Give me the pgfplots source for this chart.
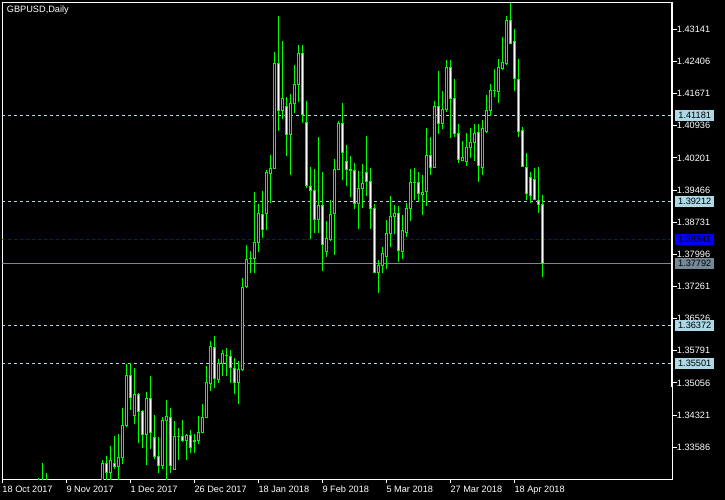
\documentclass[border=0pt]{standalone}
\usepackage{pgfplots}
\pgfplotsset{compat=1.18}
\usepackage{pgfplotstable}
\usepackage{fontspec}
\setmainfont{Liberation Sans}
\definecolor{mtlime}{RGB}{0,255,0}
\definecolor{lblue}{RGB}{173,216,230}
\definecolor{slgray}{RGB}{119,136,153}
\pgfplotstableread{
i o h l c
9 1.3240 1.3288 1.3220 1.3250
10 1.3260 1.3323 1.3230 1.3250
11 1.3250 1.3300 1.3230 1.3240
25 1.3260 1.3329 1.3250 1.3322
26 1.3322 1.3339 1.3250 1.3301
27 1.3301 1.3361 1.3275 1.3329
28 1.3322 1.3384 1.3310 1.3315
29 1.3315 1.3389 1.3270 1.3336
30 1.3336 1.3448 1.3321 1.3409
31 1.3409 1.3549 1.3406 1.3523
32 1.3523 1.3551 1.3444 1.3473
33 1.3431 1.3540 1.3412 1.3480
34 1.3480 1.3482 1.3369 1.3441
35 1.3441 1.3444 1.3358 1.3388
36 1.3388 1.3485 1.3319 1.3470
37 1.3470 1.3522 1.3355 1.3393
38 1.3381 1.3432 1.3331 1.3337
39 1.3337 1.3382 1.3300 1.3317
40 1.3317 1.3428 1.3310 1.3420
41 1.3420 1.3467 1.3270 1.3428
42 1.3427 1.3448 1.3300 1.3317
43 1.3308 1.3419 1.3307 1.3384
44 1.3384 1.3403 1.3330 1.3384
45 1.3384 1.3421 1.3371 1.3374
46 1.3374 1.3388 1.3330 1.3386
47 1.3386 1.3398 1.3346 1.3358
48 1.3372 1.3389 1.3346 1.3374
49 1.3374 1.3430 1.3367 1.3393
50 1.3393 1.3458 1.3391 1.3427
51 1.3427 1.3544 1.3427 1.3507
52 1.3505 1.3602 1.3488 1.3589
53 1.3587 1.3613 1.3493 1.3515
54 1.3514 1.3560 1.3505 1.3550
55 1.3550 1.3582 1.3522 1.3573
56 1.3568 1.3586 1.3522 1.3568
57 1.3566 1.3582 1.3505 1.3541
58 1.3539 1.3562 1.3481 1.3507
59 1.3507 1.3555 1.3458 1.3537
60 1.3537 1.3745 1.3532 1.3724
61 1.3726 1.3821 1.3722 1.3788
62 1.3790 1.3807 1.3756 1.3790
63 1.3790 1.3942 1.3756 1.3827
64 1.3827 1.3915 1.3804 1.3893
65 1.3891 1.3945 1.3838 1.3856
66 1.3893 1.3993 1.3856 1.3987
67 1.3985 1.4027 1.3916 1.3996
68 1.3996 1.4262 1.3996 1.4236
69 1.4236 1.4345 1.4082 1.4129
70 1.4129 1.4287 1.4108 1.4156
71 1.4138 1.4159 1.4025 1.4074
72 1.4074 1.4166 1.3980 1.4145
73 1.4145 1.4233 1.4122 1.4188
74 1.4188 1.4278 1.4149 1.4259
75 1.4259 1.4278 1.4101 1.4120
76 1.4101 1.4150 1.3951 1.3957
77 1.3955 1.4000 1.3835 1.3946
78 1.3946 1.3994 1.3848 1.3880
79 1.3880 1.4068 1.3848 1.3912
80 1.3912 1.3988 1.3762 1.3823
81 1.3806 1.3876 1.3794 1.3836
82 1.3834 1.3924 1.3831 1.3891
83 1.3893 1.4017 1.3798 1.3994
84 1.3994 1.4105 1.3993 1.4099
85 1.4099 1.4146 1.3970 1.4033
86 1.4012 1.4050 1.3957 1.3994
87 1.3992 1.4025 1.3930 1.3994
88 1.3991 1.4008 1.3903 1.3916
89 1.3916 1.3990 1.3857 1.3951
90 1.3951 1.4006 1.3905 1.3962
91 1.3987 1.4070 1.3932 1.3966
92 1.3967 1.3998 1.3857 1.3905
93 1.3905 1.3914 1.3756 1.3758
94 1.3758 1.3787 1.3711 1.3775
95 1.3775 1.3817 1.3756 1.3802
96 1.3794 1.3878 1.3765 1.3848
97 1.3848 1.3932 1.3816 1.3887
98 1.3886 1.3913 1.3845 1.3892
99 1.3892 1.3910 1.3781 1.3808
100 1.3806 1.3890 1.3788 1.3853
101 1.3850 1.3916 1.3840 1.3905
102 1.3905 1.3995 1.3875 1.3965
103 1.3964 1.3996 1.3924 1.3964
104 1.3964 1.3989 1.3920 1.3938
105 1.3937 1.3981 1.3889 1.3942
106 1.3943 1.4089 1.3911 1.4025
107 1.4025 1.4069 1.3981 1.3999
108 1.3999 1.4151 1.3999 1.4137
109 1.4137 1.4219 1.4075 1.4099
110 1.4099 1.4174 1.4086 1.4131
111 1.4130 1.4244 1.4126 1.4227
112 1.4227 1.4244 1.4065 1.4156
113 1.4156 1.4201 1.4069 1.4076
114 1.4076 1.4098 1.4009 1.4017
115 1.4015 1.4059 1.4012 1.4021
116 1.4012 1.4076 1.4002 1.4044
117 1.4044 1.4088 1.4021 1.4056
118 1.4056 1.4098 1.4014 1.4076
119 1.4079 1.4098 1.3966 1.4002
120 1.3999 1.4107 1.3981 1.4088
121 1.4080 1.4164 1.4078 1.4128
122 1.4128 1.4189 1.4117 1.4174
123 1.4175 1.4223 1.4160 1.4175
124 1.4172 1.4246 1.4145 1.4227
125 1.4225 1.4297 1.4220 1.4239
126 1.4236 1.4345 1.4233 1.4334
127 1.4334 1.4375 1.4281 1.4282
128 1.4286 1.4315 1.4172 1.4202
129 1.4200 1.4246 1.4067 1.4080
130 1.4082 1.4090 1.4000 1.4000
131 1.3999 1.4031 1.3925 1.3939
132 1.3976 1.3987 1.3918 1.3935
133 1.3971 1.3996 1.3924 1.3926
134 1.3922 1.3999 1.3895 1.3913
135 1.3913 1.3935 1.3747 1.37792
}\ohlc
\newcommand\mtfont{\fontsize{9.2bp}{11bp}\selectfont}
\begin{document}
\begin{tikzpicture}[x=1bp,y=1bp]
\path[use as bounding box, fill=black] (0,0) rectangle (725,500);
\begin{axis}[
  at={(2.3bp,20.8bp)}, anchor=south west,
  scale only axis, width=670.4bp, height=476.5bp,
  xmin=0, xmax=167.6, ymin=1.328557, ymax=1.437497,
  clip mode=individual,
  axis line style={white, line width=1bp},
  xtick pos=bottom, ytick pos=right,
  tick align=outside, major tick length=4bp,
  tick style={white, line width=1bp},
  xtick={0,16,32,48,64,80,96,112,128},
  xticklabels={18 Oct 2017,9 Nov 2017,1 Dec 2017,26 Dec 2017,18 Jan 2018,9 Feb 2018,5 Mar 2018,27 Mar 2018,18 Apr 2018},
  ytick={1.33586,1.34321,1.35056,1.35791,1.36526,1.37261,1.37996,1.38731,1.39466,1.40201,1.40936,1.41671,1.42406,1.43141},
  yticklabels={1.33586,1.34321,1.35056,1.35791,1.36526,1.37261,1.37996,1.38731,1.39466,1.40201,1.40936,1.41671,1.42406,1.43141},
  yticklabel pos=right,
  ticklabel style={font=\mtfont, text=white, inner sep=0pt},
  xticklabel style={anchor=north west, yshift=-2.5bp},
  yticklabel style={anchor=west},
]
\addplot[lblue, line width=1bp, dash pattern=on 3bp off 3bp] coordinates {(0,1.41181) (167.6,1.41181)};
\addplot[lblue, line width=1bp, dash pattern=on 3bp off 3bp] coordinates {(0,1.39212) (167.6,1.39212)};
\addplot[lblue, line width=1bp, dash pattern=on 3bp off 3bp] coordinates {(0,1.36372) (167.6,1.36372)};
\addplot[lblue, line width=1bp, dash pattern=on 3bp off 3bp] coordinates {(0,1.35501) (167.6,1.35501)};
\addplot[blue, line width=1bp, dash pattern=on 3bp off 3bp] coordinates {(0,1.38341) (167.6,1.38341)};
\addplot[slgray, line width=1bp] coordinates {(0,1.37792) (167.6,1.37792)};
% wicks
\addplot[mtlime, line width=1bp, arrows=-, quiver={u=0, v={\thisrow{h}-\thisrow{l}}}] table[x=i, y=l] {\ohlc};
% body outlines
\addplot[mtlime, line width=3bp, arrows=-, quiver={u=0, v={abs(\thisrow{c}-\thisrow{o})+0.00022862}}] table[x=i, y expr={min(\thisrow{o},\thisrow{c})-0.00011431}] {\ohlc};
% bear bodies: white inside
\addplot[white, line width=1bp, arrows=-, restrict expr to domain={\thisrow{o}-\thisrow{c}}{0.00001:1}, quiver={u=0, v={max(abs(\thisrow{c}-\thisrow{o})-0.00022862,0)}}] table[x=i, y expr={min(\thisrow{o},\thisrow{c})+0.00011431}] {\ohlc};
% bull bodies: black inside
\addplot[black, line width=1bp, arrows=-, restrict expr to domain={\thisrow{c}-\thisrow{o}}{0.00001:1}, quiver={u=0, v={max(abs(\thisrow{c}-\thisrow{o})-0.00022862,0)}}] table[x=i, y expr={min(\thisrow{o},\thisrow{c})+0.00011431}] {\ohlc};
\end{axis}
% thick upper part of the right border
\draw[white, line width=2bp] (672.2,497.3) -- (672.2,112.7);
% price labels of the horizontal lines
\tikzset{plab/.style={anchor=west, inner sep=0pt, minimum width=39bp, minimum height=11bp, font=\mtfont, text=black}}
\node[plab, fill=lblue] at (675,384.96) {1.41181};
\node[plab, fill=lblue] at (675,298.84) {1.39212};
\node[plab, fill=blue] at (675,260.74) {1.38341};
\node[plab, fill=slgray] at (675,236.72) {1.37792};
\node[plab, fill=lblue] at (675,174.61) {1.36372};
\node[plab, fill=lblue] at (675,136.51) {1.35501};
\node[anchor=base west, inner sep=0pt, font=\mtfont, text=white] at (6.7,487.2) {GBPUSD,Daily};
\end{tikzpicture}
\end{document}
